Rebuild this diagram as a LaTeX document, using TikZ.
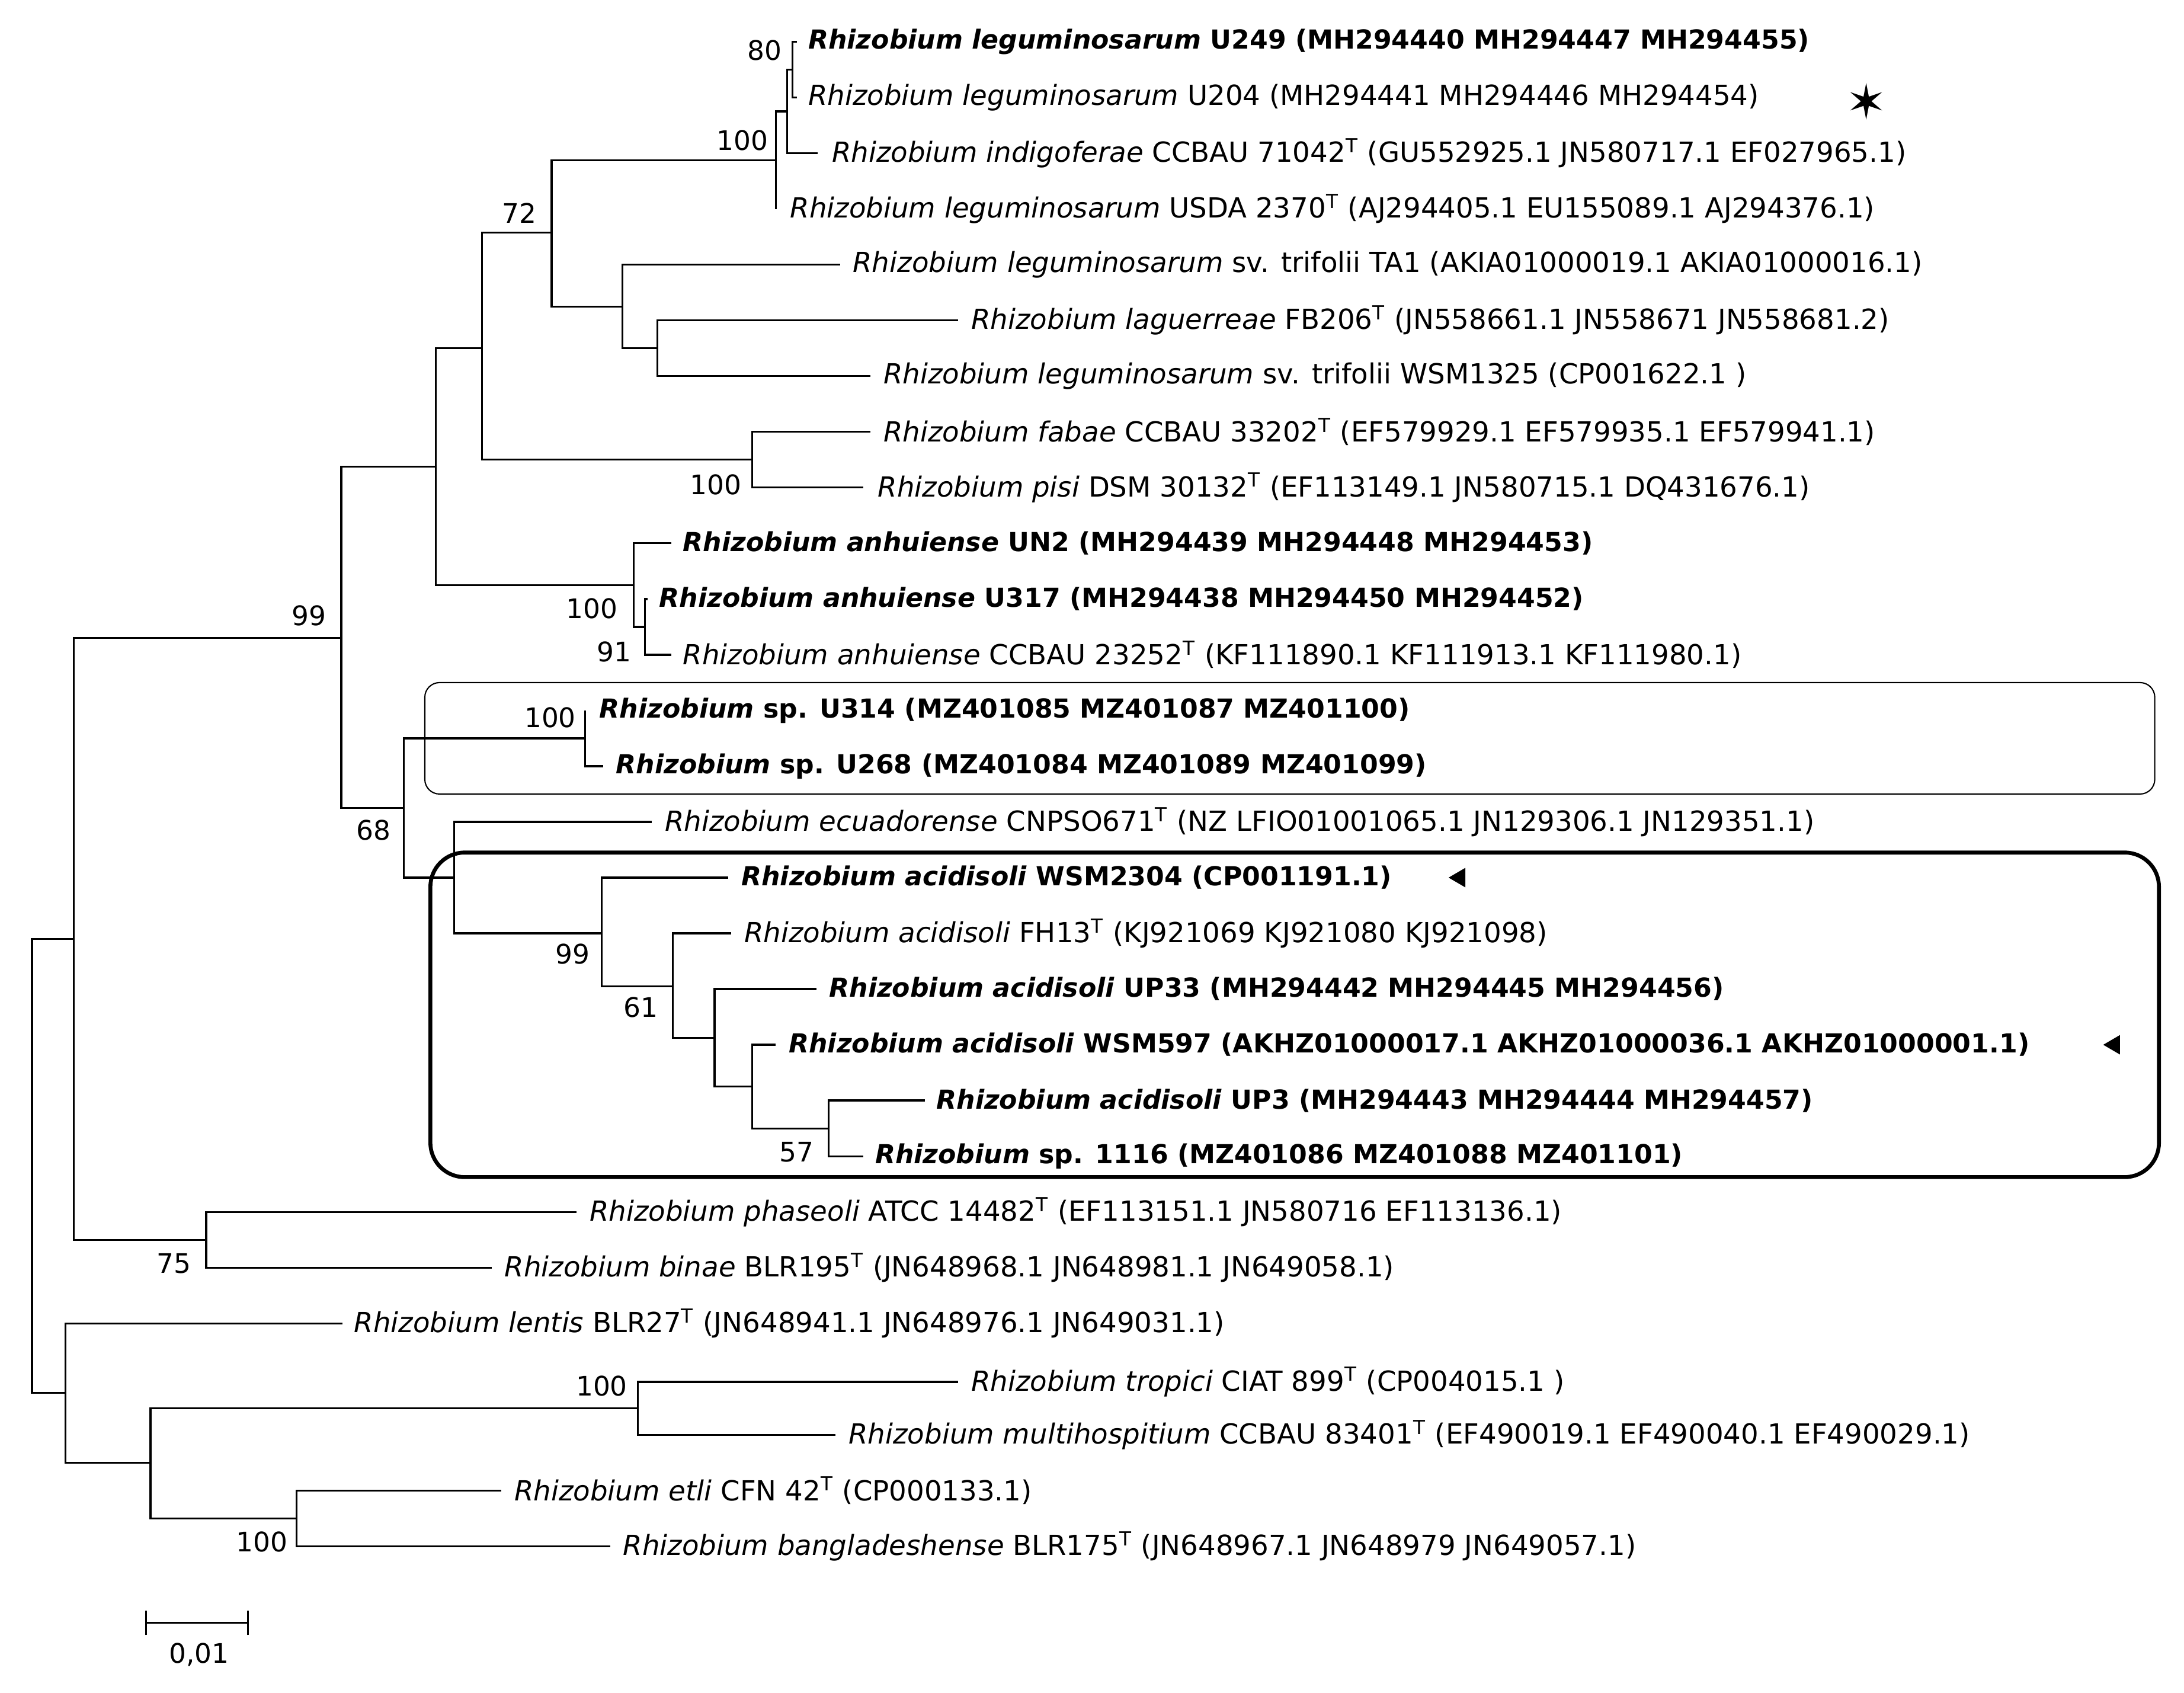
\documentclass[tikz,border=0pt]{standalone}
\usepackage{fontspec}
\setmainfont{DejaVu Sans}
\begin{document}
\begin{tikzpicture}[x=0.02cm,y=-0.02cm,
  br/.style={line width=0.8pt},
  lbl/.style={anchor=west,inner sep=0pt,font=\fontsize{11.3}{13}\selectfont},
  bs/.style={font=\fontsize{11}{13}\selectfont,inner sep=0pt}]
\useasboundingbox[fill=white] (0,0) rectangle (1568,1215);
\newcommand{\lf}[5]{\coordinate (t#1) at (#2,#3); \node[lbl] (l#1) at (#4,#3) {#5}; }
\newcommand{\Tt}{\textsuperscript{T}}
\newcommand{\bsz}{\fontsize{10.7}{13}\selectfont\bfseries}
% leaves
\lf{1}{572}{30}{580}{\bsz\textit{Rhizobium leguminosarum} U249 (MH294440 MH294447 MH294455)}
\lf{2}{572}{70}{580}{\textit{Rhizobium leguminosarum} U204 (MH294441 MH294446 MH294454)}
\lf{3}{587}{110}{597}{\textit{Rhizobium indigoferae} CCBAU 71042\Tt{} (GU552925.1 JN580717.1 EF027965.1)}
\lf{4}{557}{150}{567}{\textit{Rhizobium leguminosarum} USDA 2370\Tt{} (AJ294405.1 EU155089.1 AJ294376.1)}
\lf{5}{603}{190}{612}{\textit{Rhizobium leguminosarum} sv. trifolii TA1 (AKIA01000019.1 AKIA01000016.1)}
\lf{6}{688}{230}{697}{\textit{Rhizobium laguerreae} FB206\Tt{} (JN558661.1 JN558671 JN558681.2)}
\lf{7}{625}{270}{634}{\textit{Rhizobium leguminosarum} sv. trifolii WSM1325 (CP001622.1 )}
\lf{8}{625}{310}{634}{\textit{Rhizobium fabae} CCBAU 33202\Tt{} (EF579929.1 EF579935.1 EF579941.1)}
\lf{9}{620}{350}{630}{\textit{Rhizobium pisi} DSM 30132\Tt{} (EF113149.1 JN580715.1 DQ431676.1)}
\lf{10}{482}{390}{490}{\bsz\textit{Rhizobium anhuiense} UN2 (MH294439 MH294448 MH294453)}
\lf{11}{465}{430}{473}{\bsz\textit{Rhizobium anhuiense} U317 (MH294438 MH294450 MH294452)}
\lf{12}{482}{470}{490}{\textit{Rhizobium anhuiense} CCBAU 23252\Tt{} (KF111890.1 KF111913.1 KF111980.1)}
\lf{13}{420}{510}{430}{\bsz\textit{Rhizobium} sp. U314 (MZ401085 MZ401087 MZ401100)}
\lf{14}{433}{550}{442}{\bsz\textit{Rhizobium} sp. U268 (MZ401084 MZ401089 MZ401099)}
\lf{15}{468}{590}{477}{\textit{Rhizobium ecuadorense} CNPSO671\Tt{} (NZ LFIO01001065.1 JN129306.1 JN129351.1)}
\lf{16}{523}{630}{532}{\bsz\textit{Rhizobium acidisoli} WSM2304 (CP001191.1)}
\lf{17}{525}{670}{534}{\textit{Rhizobium acidisoli} FH13\Tt{} (KJ921069 KJ921080 KJ921098)}
\lf{18}{586}{710}{595}{\bsz\textit{Rhizobium acidisoli} UP33 (MH294442 MH294445 MH294456)}
\lf{19}{557}{750}{566}{\bsz\textit{Rhizobium acidisoli} WSM597 (AKHZ01000017.1 AKHZ01000036.1 AKHZ01000001.1)}
\lf{20}{664}{790}{672}{\bsz\textit{Rhizobium acidisoli} UP3 (MH294443 MH294444 MH294457)}
\lf{21}{620}{830}{628}{\bsz\textit{Rhizobium} sp. 1116 (MZ401086 MZ401088 MZ401101)}
\lf{22}{414}{870}{423}{\textit{Rhizobium phaseoli} ATCC 14482\Tt{} (EF113151.1 JN580716 EF113136.1)}
\lf{23}{353}{910}{362}{\textit{Rhizobium binae} BLR195\Tt{} (JN648968.1 JN648981.1 JN649058.1)}
\lf{24}{246}{950}{254}{\textit{Rhizobium lentis} BLR27\Tt{} (JN648941.1 JN648976.1 JN649031.1)}
\lf{25}{688}{992}{697}{\textit{Rhizobium tropici} CIAT 899\Tt{} (CP004015.1 )}
\lf{26}{600}{1030}{609}{\textit{Rhizobium multihospitium} CCBAU 83401\Tt{} (EF490019.1 EF490040.1 EF490029.1)}
\lf{27}{360}{1070}{369}{\textit{Rhizobium etli} CFN 42\Tt{} (CP000133.1)}
\lf{28}{438}{1110}{447}{\textit{Rhizobium bangladeshense} BLR175\Tt{} (JN648967.1 JN648979 JN649057.1)}
% internal nodes
\coordinate (n12) at (569,50);
\coordinate (n123) at (565,80);
\coordinate (n1234) at (557,115);
\coordinate (n67) at (472,250);
\coordinate (n567) at (447,220);
\coordinate (n17) at (396,167);
\coordinate (n89) at (540,330);
\coordinate (n19) at (346,250);
\coordinate (n1112) at (463,450);
\coordinate (n1012) at (455,420);
\coordinate (n112) at (313,335);
\coordinate (n1314) at (420,530);
\coordinate (n2021) at (595,810);
\coordinate (n1921) at (540,780);
\coordinate (n1821) at (513,745);
\coordinate (n1721) at (483,708);
\coordinate (n1621) at (432,670);
\coordinate (n1521) at (326,630);
\coordinate (n1321) at (290,580);
\coordinate (n121) at (245,458);
\coordinate (n2223) at (148,890);
\coordinate (ntop) at (53,674);
\coordinate (n2526) at (458,1011);
\coordinate (n2728) at (213,1090);
\coordinate (nb) at (108,1050);
\coordinate (nc) at (47,1000);
\coordinate (root) at (23,837);
\draw[br] (n12) |- (t1); \draw[br] (n12) |- (t2);
\draw[br] (n123) |- (n12); \draw[br] (n123) |- (t3);
\draw[br] (n1234) |- (n123); \draw[br] (n1234) |- (t4);
\draw[br] (n67) |- (t6); \draw[br] (n67) |- (t7);
\draw[br] (n567) |- (t5); \draw[br] (n567) |- (n67);
\draw[br] (n17) |- (n1234); \draw[br] (n17) |- (n567);
\draw[br] (n89) |- (t8); \draw[br] (n89) |- (t9);
\draw[br] (n19) |- (n17); \draw[br] (n19) |- (n89);
\draw[br] (n1112) |- (t11); \draw[br] (n1112) |- (t12);
\draw[br] (n1012) |- (t10); \draw[br] (n1012) |- (n1112);
\draw[br] (n112) |- (n19); \draw[br] (n112) |- (n1012);
\draw[br] (n1314) |- (t13); \draw[br] (n1314) |- (t14);
\draw[br] (n2021) |- (t20); \draw[br] (n2021) |- (t21);
\draw[br] (n1921) |- (t19); \draw[br] (n1921) |- (n2021);
\draw[br] (n1821) |- (t18); \draw[br] (n1821) |- (n1921);
\draw[br] (n1721) |- (t17); \draw[br] (n1721) |- (n1821);
\draw[br] (n1621) |- (t16); \draw[br] (n1621) |- (n1721);
\draw[br] (n1521) |- (t15); \draw[br] (n1521) |- (n1621);
\draw[br] (n1321) |- (n1314); \draw[br] (n1321) |- (n1521);
\draw[br] (n121) |- (n112); \draw[br] (n121) |- (n1321);
\draw[br] (n2223) |- (t22); \draw[br] (n2223) |- (t23);
\draw[br] (ntop) |- (n121); \draw[br] (ntop) |- (n2223);
\draw[br] (n2526) |- (t25); \draw[br] (n2526) |- (t26);
\draw[br] (n2728) |- (t27); \draw[br] (n2728) |- (t28);
\draw[br] (nb) |- (n2526); \draw[br] (nb) |- (n2728);
\draw[br] (nc) |- (t24); \draw[br] (nc) |- (nb);
\draw[br] (root) |- (ntop); \draw[br] (root) |- (nc);
% bootstrap labels
\node[bs] (b1) at (549,36) {80};
\node[bs] (b2) at (533,101) {100};
\node[bs] (b3) at (373,153) {72};
\node[bs] (b4) at (514,348) {100};
\node[bs] (b5) at (425,437) {100};
\node[bs] (b6) at (441,468) {91};
\node[bs] (b7) at (222,442) {99};
\node[bs] (b8) at (395,515) {100};
\node[bs] (b9) at (268,596) {68};
\node[bs] (b10) at (411,685) {99};
\node[bs] (b11) at (460,723) {61};
\node[bs] (b12) at (572,827) {57};
\node[bs] (b13) at (125,907) {75};
\node[bs] (b14) at (432,995) {100};
\node[bs] (b15) at (188,1107) {100};
% boxes
\draw[line width=0.5pt,rounded corners=6pt] (305,490) rectangle (1547,570);
\draw[line width=1.6pt,rounded corners=14pt] (309,612) rectangle (1550,845);
% markers
\node[font=\fontsize{20}{20}\selectfont\bfseries,inner sep=0pt] (star) at (1340,73) {\char"2736};
\fill (1040,630) -- (1052,623) -- (1052,637) -- cycle;
\fill (1510,750) -- (1522,743) -- (1522,757) -- cycle;
% scale bar
\coordinate (s1) at (105,1165); \coordinate (s2) at (178,1165);
\draw[line width=0.8pt] (s1) -- (s2);
\draw[line width=0.8pt] ([yshift=-5]s1) -- ([yshift=5]s1);
\draw[line width=0.8pt] ([yshift=-5]s2) -- ([yshift=5]s2);
\node[bs] (sl) at (143,1188) {0,01};
\end{tikzpicture}
\end{document}
